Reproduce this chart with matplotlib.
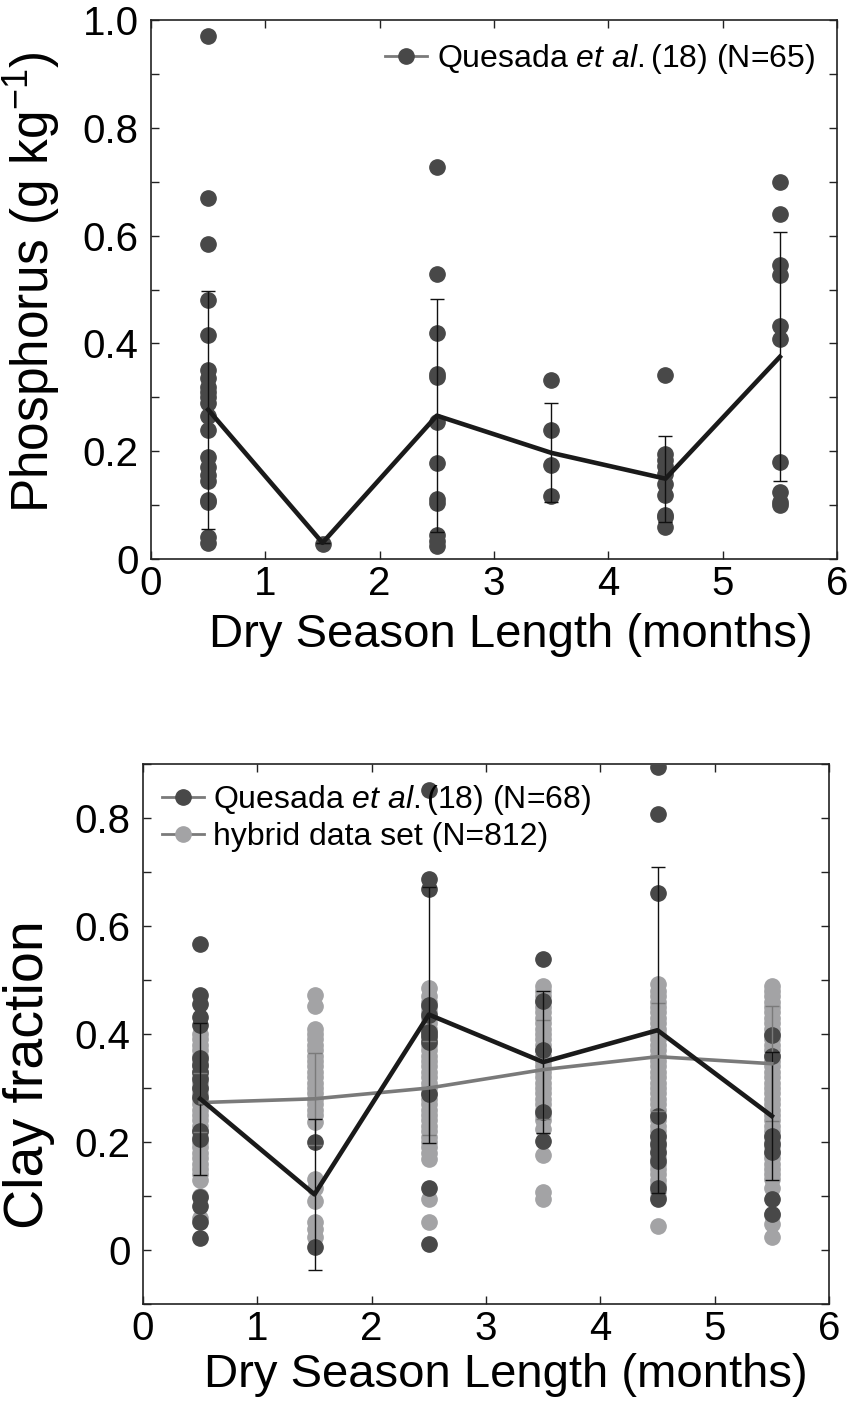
"""Phosphorus and clay fraction against dry season length"""

import matplotlib
matplotlib.use("Agg")
import matplotlib.pyplot as plt
from matplotlib.lines import Line2D
from matplotlib.ticker import MultipleLocator, FuncFormatter

plt.rcParams["font.family"] = ["Liberation Sans", "DejaVu Sans"]
plt.rcParams["mathtext.fontset"] = "custom"
plt.rcParams["mathtext.rm"] = "Liberation Sans"
plt.rcParams["mathtext.it"] = "Liberation Sans:italic"

DARK = "#484848"
LIGHT = "#a3a3a5"
LINE_GRAY = "#7a7a7a"

MONTHS = [0.5, 1.5, 2.5, 3.5, 4.5, 5.5]

# top panel: Quesada et al. phosphorus samples per dry season bin
P_POINTS = [
    [0.97, 0.67, 0.585, 0.48, 0.415, 0.35, 0.335, 0.32, 0.31, 0.30, 0.29,
     0.265, 0.24, 0.19, 0.17, 0.155, 0.145, 0.11, 0.105, 0.04, 0.03],
    [0.028],
    [0.728, 0.529, 0.42, 0.344, 0.337, 0.255, 0.179, 0.112, 0.103, 0.044,
     0.033, 0.024],
    [0.333, 0.24, 0.175, 0.117],
    [0.341, 0.195, 0.183, 0.172, 0.157, 0.139, 0.118, 0.082, 0.077, 0.06],
    [0.70, 0.641, 0.546, 0.526, 0.433, 0.409, 0.18, 0.125, 0.105, 0.101],
]
P_MEAN = [0.277, 0.03, 0.266, 0.197, 0.149, 0.375]
P_STD = [0.221, 0.0, 0.216, 0.092, 0.080, 0.231]

# bottom panel: Quesada et al. clay fraction samples
CLAY_Q = [
    [0.566, 0.473, 0.456, 0.432, 0.416, 0.356, 0.343, 0.33, 0.317, 0.30,
     0.283, 0.22, 0.205, 0.098, 0.081, 0.052, 0.022],
    [0.20, 0.005],
    [0.852, 0.687, 0.668, 0.454, 0.436, 0.403, 0.396, 0.386, 0.289, 0.115,
     0.012],
    [0.538, 0.462, 0.37, 0.256, 0.202],
    [0.894, 0.807, 0.661, 0.249, 0.211, 0.197, 0.181, 0.164, 0.115, 0.095],
    [0.399, 0.36, 0.211, 0.197, 0.181, 0.095, 0.066],
]
CLAY_Q_MEAN = [0.280, 0.103, 0.436, 0.348, 0.407, 0.248]
CLAY_Q_STD = [0.141, 0.140, 0.237, 0.132, 0.302, 0.119]

# bottom panel: hybrid data set clay fraction samples (subset)
CLAY_H = [
    [0.40, 0.39, 0.38, 0.37, 0.36, 0.35, 0.34, 0.33, 0.32, 0.31, 0.30, 0.29,
     0.28, 0.27, 0.26, 0.25, 0.24, 0.23, 0.22, 0.21, 0.20, 0.19, 0.18,
     0.17, 0.16, 0.15, 0.14, 0.13, 0.10, 0.06],
    [0.472, 0.452, 0.41, 0.40, 0.39, 0.38, 0.37, 0.36, 0.35, 0.34, 0.33,
     0.32, 0.31, 0.30, 0.29, 0.28, 0.27, 0.26, 0.25, 0.237, 0.131, 0.115,
     0.091, 0.052, 0.038, 0.025],
    [0.485, 0.47, 0.46, 0.45, 0.44, 0.43, 0.42, 0.41, 0.40, 0.39, 0.38,
     0.37, 0.36, 0.35, 0.34, 0.33, 0.32, 0.31, 0.30, 0.29, 0.28, 0.27,
     0.26, 0.25, 0.24, 0.23, 0.22, 0.21, 0.20, 0.19, 0.18, 0.168, 0.095,
     0.052],
    [0.489, 0.48, 0.47, 0.46, 0.45, 0.44, 0.43, 0.42, 0.41, 0.40, 0.39,
     0.38, 0.37, 0.36, 0.35, 0.34, 0.33, 0.32, 0.31, 0.30, 0.29, 0.28,
     0.27, 0.26, 0.25, 0.24, 0.224, 0.176, 0.108, 0.095],
    [0.492, 0.48, 0.47, 0.46, 0.45, 0.44, 0.43, 0.42, 0.41, 0.40, 0.39,
     0.38, 0.37, 0.36, 0.35, 0.34, 0.33, 0.32, 0.31, 0.30, 0.29, 0.28,
     0.27, 0.26, 0.25, 0.24, 0.23, 0.22, 0.21, 0.20, 0.19, 0.18, 0.17,
     0.16, 0.15, 0.14, 0.13, 0.12, 0.11, 0.098, 0.045],
    [0.489, 0.48, 0.47, 0.46, 0.45, 0.44, 0.43, 0.42, 0.41, 0.40, 0.39,
     0.38, 0.37, 0.36, 0.35, 0.34, 0.33, 0.32, 0.31, 0.30, 0.29, 0.28,
     0.27, 0.26, 0.25, 0.24, 0.23, 0.22, 0.21, 0.20, 0.19, 0.18, 0.17,
     0.16, 0.15, 0.14, 0.131, 0.115, 0.065, 0.048, 0.025],
]
CLAY_H_MEAN = [0.273, 0.280, 0.300, 0.334, 0.358, 0.345]
CLAY_H_STD = [0.054, 0.085, 0.087, 0.092, 0.100, 0.106]

MS = 11
TICK_FS = 29


def scatter_groups(ax, groups, color, zorder):
    """Draw each bin's samples as a vertical column of dots"""
    for xpos, vals in zip(MONTHS, groups):
        ax.plot([xpos] * len(vals), vals, "o", ms=MS, color=color,
                mec=color, zorder=zorder)


def style_axes(ax):
    """Ticks inside on all sides, matlab look"""
    ax.set_xlim(0, 6)
    ax.xaxis.set_major_locator(MultipleLocator(1))
    ax.yaxis.set_major_locator(MultipleLocator(0.2))
    ax.yaxis.set_minor_locator(MultipleLocator(0.1))
    ax.yaxis.set_major_formatter(
        FuncFormatter(lambda v, _: "0" if abs(v) < 1e-9 else f"{v:.1f}"))
    ax.tick_params(which="both", direction="in", top=True, right=True,
                   length=6, width=1.0, color="#222222")
    ax.tick_params(axis="y", which="major", labelsize=TICK_FS, pad=9)
    ax.tick_params(axis="x", which="major", labelsize=TICK_FS, pad=4)
    for sp in ax.spines.values():
        sp.set_linewidth(1.2)
        sp.set_color("#222222")


fig = plt.figure(figsize=(8.49, 14.01), dpi=100)
ax1 = fig.add_axes([151 / 849, 1 - 559 / 1401, 686 / 849, 539 / 1401])
ax2 = fig.add_axes([143 / 849, 1 - 1304 / 1401, 686 / 849, 540 / 1401])

# top panel
scatter_groups(ax1, P_POINTS, DARK, 2)
ax1.errorbar(MONTHS, P_MEAN, yerr=P_STD, fmt="none", ecolor="#111111",
             elinewidth=1.0, capsize=5, capthick=1.0, zorder=3)
ax1.plot(MONTHS, P_MEAN, "-", color="#1a1a1a", lw=3.3, zorder=4)
style_axes(ax1)
ax1.set_ylim(0, 1.0)
ax1.set_xlabel("Dry Season Length (months)", fontsize=34)
ax1.xaxis.set_label_coords(0.525, -0.1)
ax1.set_ylabel("Phosphorus (g kg$^{-1}$)", fontsize=37)
ax1.yaxis.set_label_coords(-0.128, 0.513)
h1 = Line2D([], [], color=LINE_GRAY, lw=2, marker="o", ms=MS, mfc=DARK,
            mec=DARK)
ax1.legend([h1], ["Quesada $\\mathit{et\\ al.}$(18) (N=65)"],
           loc="upper right", frameon=False, fontsize=23, handlelength=1.3,
           handletextpad=0.3, borderaxespad=0.3)

# bottom panel
scatter_groups(ax2, CLAY_H, LIGHT, 2)
scatter_groups(ax2, CLAY_Q, DARK, 3)
ax2.errorbar(MONTHS, CLAY_H_MEAN, yerr=CLAY_H_STD, fmt="none",
             ecolor=LINE_GRAY, elinewidth=1.0, capsize=5, capthick=1.0,
             zorder=4)
ax2.errorbar(MONTHS, CLAY_Q_MEAN, yerr=CLAY_Q_STD, fmt="none",
             ecolor="#111111", elinewidth=1.0, capsize=5, capthick=1.0,
             zorder=4)
ax2.plot(MONTHS, CLAY_H_MEAN, "-", color=LINE_GRAY, lw=2.6, zorder=5)
ax2.plot(MONTHS, CLAY_Q_MEAN, "-", color="#1a1a1a", lw=3.3, zorder=6)
style_axes(ax2)
ax2.set_ylim(-0.1, 0.9)
ax2.set_xlabel("Dry Season Length (months)", fontsize=34)
ax2.xaxis.set_label_coords(0.529, -0.09)
ax2.set_ylabel("Clay fraction", fontsize=40)
ax2.yaxis.set_label_coords(-0.128, 0.424)
h2 = Line2D([], [], color=LINE_GRAY, lw=2, marker="o", ms=MS, mfc=DARK,
            mec=DARK)
h3 = Line2D([], [], color=LINE_GRAY, lw=2, marker="o", ms=MS, mfc=LIGHT,
            mec=LIGHT)
ax2.legend([h2, h3], ["Quesada $\\mathit{et\\ al.}$(18) (N=68)",
                      "hybrid data set (N=812)"],
           loc="upper left", frameon=False, fontsize=23, handlelength=1.3,
           handletextpad=0.3, borderaxespad=0.2, labelspacing=0.15)

fig.savefig("out.png", dpi=100)
